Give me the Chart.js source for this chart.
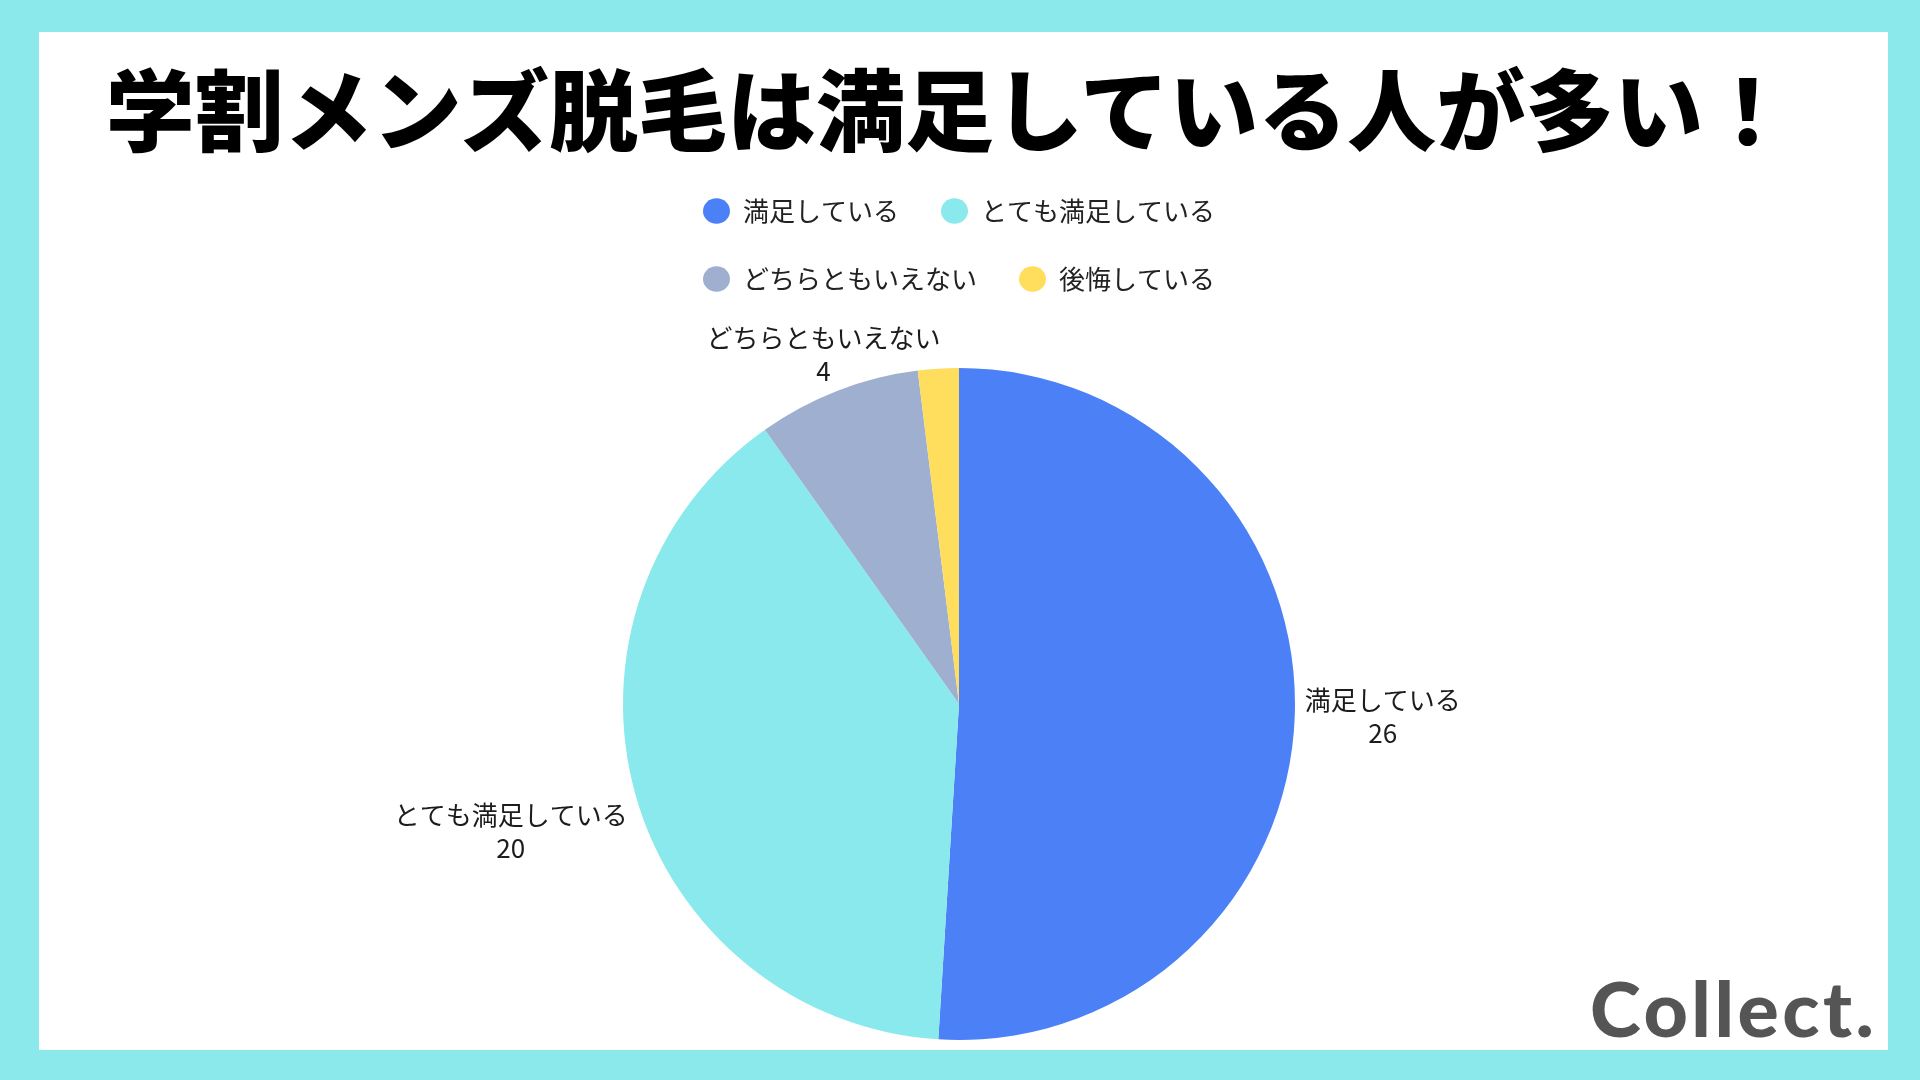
<!DOCTYPE html>
<html lang="ja">
<head>
<meta charset="utf-8">
<title>学割メンズ脱毛は満足している人が多い！</title>
<script src="https://cdn.jsdelivr.net/npm/chart.js@4.4.1/dist/chart.umd.min.js"></script>
<style>
  html, body { margin: 0; padding: 0; }
  body {
    width: 1920px; height: 1080px; overflow: hidden; position: relative;
    background: #8be9ec;
    font-family: "Noto Sans CJK JP", "Noto Sans", sans-serif;
  }
  #panel {
    position: absolute; left: 39px; top: 32px; width: 1849px; height: 1018px;
    background: #ffffff;
  }
  #title {
    position: absolute; left: -10px; top: 62px; width: 1918px; height: 88px;
    text-align: center; font-size: 89px; line-height: 88px; font-weight: 900;
    color: #000; white-space: nowrap;
  }
  #wrap { position: absolute; left: 0; top: 0; width: 1920px; height: 1110px; }
  #logo {
    position: absolute; left: 1590px; top: 969px;
    font-family: Lato, sans-serif; font-weight: 900; font-size: 77px; line-height: 1;
    color: #555555; letter-spacing: 3.5px;
  }
</style>
</head>
<body>
<div id="panel"></div>
<div id="wrap"><canvas id="pie-chart"></canvas></div>
<div id="title">学割メンズ脱毛は満足している人が多い！</div>
<div id="logo">Collect.</div>
<script>
const categories = ['満足している', 'とても満足している', 'どちらともいえない', '後悔している'];
const counts = [26, 20, 4, 1];
const sliceColors = ['#4b80f6', '#8ae9ec', '#9fafcf', '#fede5c'];

// labels outside the pie: name + value, pushed out along the slice middle until clear
const sliceLabels = {
	id: 'sliceLabels',
	afterDatasetsDraw(chart) {
		const ctx = chart.ctx;
		const meta = chart.getDatasetMeta(0);
		const total = counts.reduce((a, b) => a + b, 0);
		ctx.save();
		ctx.font = '26px "Noto Sans CJK JP"';
		ctx.fillStyle = '#1c1c1c';
		ctx.textAlign = 'center';
		ctx.textBaseline = 'middle';
		meta.data.forEach((arc, i) => {
			if (counts[i] / total < 0.05) return;
			const p = arc.getProps(['x', 'y', 'startAngle', 'endAngle', 'outerRadius'], true);
			const mid = (p.startAngle + p.endAngle) / 2;
			const lines = [categories[i], String(counts[i])];
			const widths = lines.map(t => ctx.measureText(t).width);
			const lineGap = 33, half = 12, clear = p.outerRadius + 9;
			const fits = (cx, cy) => lines.every((t, k) => {
				const ly = cy + (k - (lines.length - 1) / 2) * lineGap;
				const nx = Math.max(cx - widths[k] / 2, Math.min(p.x, cx + widths[k] / 2));
				const ny = Math.max(ly - half, Math.min(p.y, ly + half));
				return Math.hypot(nx - p.x, ny - p.y) >= clear;
			});
			let d = p.outerRadius;
			while (!fits(p.x + Math.cos(mid) * d, p.y + Math.sin(mid) * d) && d < p.outerRadius + 400) d += 1;
			const cx = p.x + Math.cos(mid) * d, cy = p.y + Math.sin(mid) * d;
			lines.forEach((t, k) => {
				ctx.fillText(t, cx, cy + (k - (lines.length - 1) / 2) * lineGap);
			});
		});
		ctx.restore();
	}
};

document.addEventListener("DOMContentLoaded", function() {
	const ctx = document.getElementById('pie-chart').getContext('2d');
	new Chart(ctx, {
		type: 'pie',
		data: {
			labels: categories,
			datasets: [{
				data: counts,
				backgroundColor: sliceColors,
				borderWidth: 0,
				radius: 336
			}]
		},
		options: {
			responsive: true,
			maintainAspectRatio: false,
			animation: false,
			layout: {
				padding: { left: 559, right: 561, top: 156, bottom: 4 }
			},
			plugins: {
				legend: {
					position: 'top',
					labels: {
						usePointStyle: true,
						pointStyle: 'circle',
						pointStyleWidth: 27,
						boxHeight: 18,
						padding: 42,
						color: '#222',
						font: { family: '"Noto Sans CJK JP"', size: 26 }
					}
				},
				tooltip: { enabled: false }
			}
		},
		plugins: [sliceLabels]
	});
});
</script>
</body>
</html>
